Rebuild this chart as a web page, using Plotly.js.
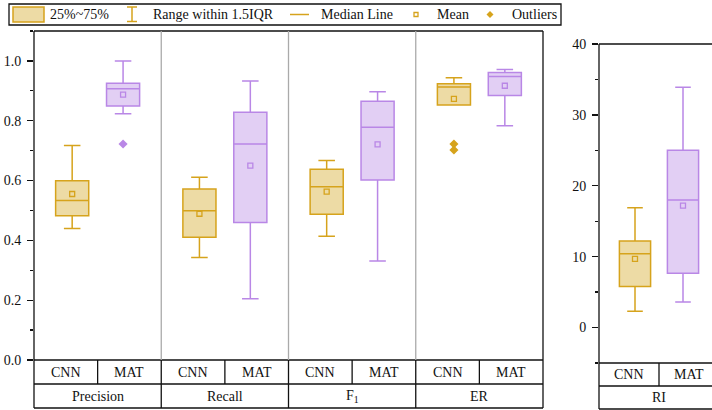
<!DOCTYPE html>
<html><head><meta charset="utf-8">
<script src="https://cdn.plot.ly/plotly-3.0.1.min.js"></script>
<style>html,body{margin:0;padding:0;background:#fff}#chart{width:712px;height:410px}</style>
</head><body><div id="chart"></div>
<script>
// ---------- data ----------
const metrics = ['Precision', 'Recall', 'F<sub>1</sub>', 'ER'];
const models = ['CNN', 'MAT'];

const cnnLower  = [0.440, 0.343, 0.414, 0.853];
const cnnQ1     = [0.482, 0.410, 0.487, 0.853];
const cnnMedian = [0.533, 0.499, 0.579, 0.913];
const cnnQ3     = [0.599, 0.572, 0.638, 0.924];
const cnnUpper  = [0.717, 0.611, 0.667, 0.944];
const cnnMean   = [0.555, 0.489, 0.563, 0.873];

const matLower  = [0.823, 0.205, 0.331, 0.783];
const matQ1     = [0.849, 0.460, 0.602, 0.884];
const matMedian = [0.907, 0.722, 0.778, 0.948];
const matQ3     = [0.925, 0.828, 0.865, 0.961];
const matUpper  = [1.000, 0.933, 0.897, 0.971];
const matMean   = [0.887, 0.650, 0.721, 0.917];

const outlierMetric = [0, 3, 3];
const outlierModel  = ['MAT', 'CNN', 'CNN'];
const outlierValue  = [0.722, 0.722, 0.702];

const riLabel  = 'RI';
const riLower  = [2.3, 3.6];
const riQ1     = [5.8, 7.65];
const riMedian = [10.4, 18.0];
const riQ3     = [12.2, 25.0];
const riUpper  = [16.9, 33.9];
const riMean   = [9.7, 17.2];

const legendLabels = ['25%~75%', 'Range within 1.5IQR', 'Median Line', 'Mean', 'Outliers'];

// ---------- styling ----------
const W = 712, H = 410;
const px = v => v / W;
const py = v => 1 - v / H;
const FONT = 'Liberation Serif';
const col = {
  CNN: {line: 'rgb(214,163,28)', fill: 'rgb(237,219,165)'},
  MAT: {line: 'rgb(185,135,230)', fill: 'rgb(226,207,244)'}
};
const OFF = 0.2, BW = 0.26;
const posOf = (g, m) => g + 0.5 + (m === 'CNN' ? -OFF : OFF);
const rightEnd = (W - 599) / 120;

const traces = [];
function addBoxes(model, xa, ya, lower, q1, med, q3, upper, mean) {
  const xs = lower.map((_, i) => posOf(i, model));
  traces.push({
    type: 'box', xaxis: xa, yaxis: ya, x: xs,
    lowerfence: lower, q1: q1, median: med, q3: q3, upperfence: upper,
    width: BW, whiskerwidth: 0.5, boxpoints: false,
    fillcolor: col[model].fill, line: {color: col[model].line, width: 1.5},
    hoverinfo: 'skip', showlegend: false
  });
  traces.push({
    type: 'scatter', mode: 'markers', xaxis: xa, yaxis: ya, x: xs, y: mean,
    marker: {symbol: 'square-open', size: 5, color: col[model].line, line: {width: 1.3, color: col[model].line}},
    hoverinfo: 'skip', showlegend: false
  });
}
addBoxes('CNN', 'x', 'y', cnnLower, cnnQ1, cnnMedian, cnnQ3, cnnUpper, cnnMean);
addBoxes('MAT', 'x', 'y', matLower, matQ1, matMedian, matQ3, matUpper, matMean);
addBoxes('CNN', 'x2', 'y2', [riLower[0]], [riQ1[0]], [riMedian[0]], [riQ3[0]], [riUpper[0]], [riMean[0]]);
addBoxes('MAT', 'x2', 'y2', [riLower[1]], [riQ1[1]], [riMedian[1]], [riQ3[1]], [riUpper[1]], [riMean[1]]);
traces.push({
  type: 'scatter', mode: 'markers', xaxis: 'x', yaxis: 'y',
  x: outlierMetric.map((g, i) => posOf(g, outlierModel[i])), y: outlierValue,
  marker: {symbol: 'diamond', size: 7, color: outlierModel.map(m => col[m].line)},
  hoverinfo: 'skip', showlegend: false
});

// ---------- shapes / annotations ----------
const shapes = [], annotations = [];
const blk = {color: '#111', width: 1.3};
const txtFont = {family: FONT, size: 14, color: '#111'};
const line = (xref, x0, x1, y0, y1, l) => shapes.push({type: 'line', xref, yref: 'paper', x0, x1, y0, y1, line: l || blk, layer: 'above'});
const label = (xref, x, y, text) => annotations.push({xref, yref: 'paper', x, y, xanchor: 'center', yanchor: 'middle', text, showarrow: false, borderpad: 0, font: txtFont});

// left panel frame
line('paper', px(34), px(543), py(31), py(31));
line('paper', px(34), px(34), py(31), py(408));
line('paper', px(543), px(543), py(31), py(408));
[360, 384, 408].forEach(y => line('paper', px(34), px(543), py(y), py(y)));
for (let g = 1; g < metrics.length; g++) {
  line('x', g, g, py(31), py(360), {color: '#aaaaaa', width: 1.3});
  line('x', g, g, py(360), py(408));
}
metrics.forEach((m, g) => {
  line('x', g + 0.5, g + 0.5, py(360), py(384));
  models.forEach((md, k) => label('x', g + 0.25 + 0.5 * k, py(372), md));
  label('x', g + 0.5, py(396), m);
});
// right panel frame
line('paper', px(599), 1, py(44), py(44));
line('paper', px(599), px(599), py(44), py(409));
[363, 386, 409].forEach(y => line('paper', px(599), 1, py(y), py(y)));
line('x2', 0.5, 0.5, py(363), py(386));
models.forEach((md, k) => label('x2', 0.25 + 0.5 * k, py(374.5), md));
label('x2', 0.5, py(397.5), riLabel);

// legend
shapes.push({type: 'rect', xref: 'paper', yref: 'paper', x0: px(9), x1: px(561), y0: py(25), y1: py(4), line: blk, fillcolor: 'rgba(0,0,0,0)'});
shapes.push({type: 'rect', xref: 'paper', yref: 'paper', x0: px(13), x1: px(44), y0: py(22), y1: py(7), line: {color: col.CNN.line, width: 1.5}, fillcolor: col.CNN.fill});
const gl = {color: col.CNN.line, width: 1.5};
line('paper', px(132), px(132), py(7), py(21.5), gl);
line('paper', px(127), px(137), py(7), py(7), gl);
line('paper', px(127), px(137), py(21.5), py(21.5), gl);
line('paper', px(290), px(309), py(14.5), py(14.5), gl);
shapes.push({type: 'rect', xref: 'paper', yref: 'paper', x0: px(414), x1: px(418), y0: py(16.5), y1: py(12.5), line: {color: col.CNN.line, width: 1.3}, fillcolor: 'rgba(0,0,0,0)'});
shapes.push({type: 'path', xref: 'paper', yref: 'paper', path: `M ${px(490)} ${py(11)} L ${px(493.5)} ${py(14.5)} L ${px(490)} ${py(18)} L ${px(486.5)} ${py(14.5)} Z`, line: {width: 0}, fillcolor: col.CNN.line});
[49, 152, 320, 436, 511].forEach((x, i) => annotations.push({xref: 'paper', yref: 'paper', x: px(x), y: py(14.5), xanchor: 'left', yanchor: 'middle', text: legendLabels[i], showarrow: false, borderpad: 0, font: txtFont}));

const axBase = {showgrid: false, zeroline: false, showline: false, fixedrange: true};
const layout = {
  width: W, height: H, margin: {l: 0, r: 0, t: 0, b: 0},
  paper_bgcolor: '#fff', plot_bgcolor: 'rgba(0,0,0,0)',
  font: {family: FONT, size: 14, color: '#111'},
  showlegend: false, boxmode: 'overlay',
  xaxis: Object.assign({}, axBase, {domain: [px(34), px(543)], range: [0, metrics.length], showticklabels: false, ticks: ''}),
  yaxis: Object.assign({}, axBase, {domain: [py(360), py(31)], range: [0, 1.1], tickmode: 'linear', tick0: 0, dtick: 0.2, tickformat: '.1f',
    ticks: 'outside', ticklen: 6, tickwidth: 1.3, tickcolor: '#111', ticklabelstandoff: 3,
    minor: {dtick: 0.1, ticks: 'outside', ticklen: 3, tickwidth: 1.3, tickcolor: '#111'}}),
  xaxis2: Object.assign({}, axBase, {domain: [px(599), 1], range: [0, rightEnd], showticklabels: false, ticks: '', anchor: 'y2'}),
  yaxis2: Object.assign({}, axBase, {domain: [py(363), py(44)], range: [-5, 40], anchor: 'x2', tickmode: 'linear', tick0: 0, dtick: 10,
    ticks: 'outside', ticklen: 6, tickwidth: 1.3, tickcolor: '#111', ticklabelstandoff: 3,
    minor: {dtick: 5, ticks: 'outside', ticklen: 3, tickwidth: 1.3, tickcolor: '#111'}}),
  shapes, annotations
};
Plotly.newPlot('chart', traces, layout, {staticPlot: true, displayModeBar: false});
</script></body></html>
